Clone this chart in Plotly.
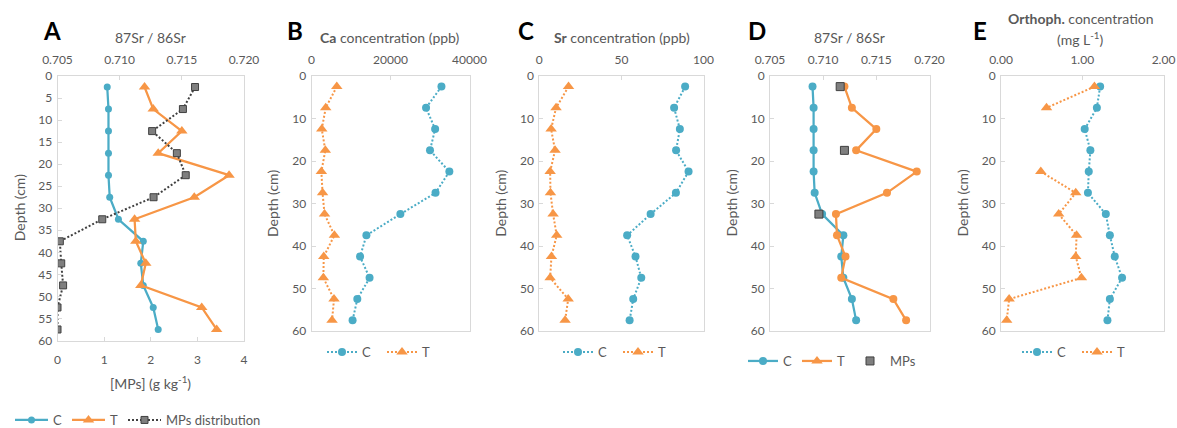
import plotly.graph_objects as go

W, H = 1177, 428

# ---------------- data ----------------
depth = [2.5, 7.5, 12.5, 17.5, 22.5, 27.5, 32.5, 37.5, 42.5, 47.5, 52.5, 57.5]

sr_ratio_C = [0.7090, 0.7091, 0.7091, 0.7091, 0.7091, 0.7092, 0.7099, 0.7119, 0.7117, 0.7119, 0.7127, 0.7131]
sr_ratio_T = [0.7120, 0.7127, 0.7150, 0.7131, 0.7188, 0.7160, 0.7112, 0.7113, 0.7121, 0.7117, 0.7166, 0.7178]
mps_conc = [2.95, 2.69, 2.03, 2.56, 2.75, 2.06, 0.96, 0.05, 0.08, 0.12, 0.0, 0.0]

mps_depth = [2.5, 17.5, 32.5]
mps_sr_ratio = [0.7116, 0.7120, 0.7096]

ca_C = [32900, 29000, 31300, 30000, 34900, 31400, 22500, 13900, 12300, 14700, 11600, 10400]
ca_T = [6400, 3600, 2600, 3500, 2500, 2800, 3300, 5800, 3100, 3000, 5700, 5200]

sr_C = [88.8, 82.1, 85.6, 83.3, 90.9, 83.2, 67.8, 53.5, 58.6, 62.1, 57.2, 55.0]
sr_T = [17.8, 10.2, 7.2, 9.6, 6.6, 6.8, 8.4, 10.6, 7.4, 6.6, 17.6, 15.7]

orth_C = [1.22, 1.18, 1.03, 1.10, 1.08, 1.07, 1.29, 1.34, 1.40, 1.49, 1.34, 1.31]
orth_T = [1.15, 0.56, None, None, 0.49, 0.92, 0.71, 0.93, 0.92, 0.99, 0.10, 0.07]

# ---------------- style ----------------
BLUE = "#4BACC6"
ORANGE = "#F79646"
SQ_FILL = "#7F7F7F"
SQ_LINE = "#404040"
GRAY_TXT = "#595959"
FRAME = "#D9D9D9"
FONT = "Lato"
DOT = "2px,2px"


def px(x):
    return x / W


def py(y):
    return 1 - y / H


fig = go.Figure()

# Panel A
fig.add_trace(go.Scatter(x=sr_ratio_C, y=depth, xaxis="x", yaxis="y", name="C", legend="legend",
                         mode="lines+markers", line=dict(color=BLUE, width=2.25),
                         marker=dict(symbol="circle", size=7, color=BLUE)))
fig.add_trace(go.Scatter(x=sr_ratio_T, y=depth, xaxis="x", yaxis="y", name="T", legend="legend",
                         mode="lines+markers", line=dict(color=ORANGE, width=2.25),
                         marker=dict(symbol="triangle-up", size=10, color=ORANGE)))
fig.add_trace(go.Scatter(x=mps_conc, y=depth, xaxis="x6", yaxis="y", name="MPs distribution", legend="legend",
                         mode="lines+markers", line=dict(color=SQ_LINE, width=2, dash=DOT),
                         marker=dict(symbol="square", size=7, color=SQ_FILL, line=dict(color=SQ_LINE, width=1))))

# Panel B
fig.add_trace(go.Scatter(x=ca_C, y=depth, xaxis="x2", yaxis="y2", name="C", legend="legend2",
                         mode="lines+markers", line=dict(color=BLUE, width=2, dash=DOT),
                         marker=dict(symbol="circle", size=8, color=BLUE)))
fig.add_trace(go.Scatter(x=ca_T, y=depth, xaxis="x2", yaxis="y2", name="T", legend="legend2",
                         mode="lines+markers", line=dict(color=ORANGE, width=2, dash=DOT),
                         marker=dict(symbol="triangle-up", size=10, color=ORANGE)))

# Panel C
fig.add_trace(go.Scatter(x=sr_C, y=depth, xaxis="x3", yaxis="y3", name="C", legend="legend3",
                         mode="lines+markers", line=dict(color=BLUE, width=2, dash=DOT),
                         marker=dict(symbol="circle", size=8, color=BLUE)))
fig.add_trace(go.Scatter(x=sr_T, y=depth, xaxis="x3", yaxis="y3", name="T", legend="legend3",
                         mode="lines+markers", line=dict(color=ORANGE, width=2, dash=DOT),
                         marker=dict(symbol="triangle-up", size=10, color=ORANGE)))

# Panel D
fig.add_trace(go.Scatter(x=sr_ratio_C, y=depth, xaxis="x4", yaxis="y4", name="C", legend="legend4",
                         mode="lines+markers", line=dict(color=BLUE, width=2.25),
                         marker=dict(symbol="circle", size=8, color=BLUE)))
fig.add_trace(go.Scatter(x=sr_ratio_T, y=depth, xaxis="x4", yaxis="y4", name="T", showlegend=False,
                         mode="lines+markers", line=dict(color=ORANGE, width=2.25),
                         marker=dict(symbol="circle", size=8, color=ORANGE)))
fig.add_trace(go.Scatter(x=[None], y=[None], xaxis="x4", yaxis="y4", name="T", legend="legend4",
                         mode="lines+markers", line=dict(color=ORANGE, width=2.25),
                         marker=dict(symbol="triangle-up", size=10, color=ORANGE)))
fig.add_trace(go.Scatter(x=mps_sr_ratio, y=mps_depth, xaxis="x4", yaxis="y4", name="MPs", legend="legend4",
                         mode="markers",
                         marker=dict(symbol="square", size=8, color=SQ_FILL, line=dict(color=SQ_LINE, width=1))))

# Panel E
fig.add_trace(go.Scatter(x=orth_C, y=depth, xaxis="x5", yaxis="y5", name="C", legend="legend5",
                         mode="lines+markers", line=dict(color=BLUE, width=2, dash=DOT),
                         marker=dict(symbol="circle", size=8, color=BLUE)))
fig.add_trace(go.Scatter(x=orth_T, y=depth, xaxis="x5", yaxis="y5", name="T", legend="legend5",
                         mode="lines+markers", line=dict(color=ORANGE, width=2, dash=DOT),
                         marker=dict(symbol="triangle-up", size=10, color=ORANGE)))

# ---------------- axes ----------------
tickfont = dict(family=FONT, size=12, color=GRAY_TXT)


def xax(x0, x1, rng, dtick, fmt, anchor):
    return dict(domain=[px(x0), px(x1)], range=rng, dtick=dtick, tick0=rng[0], tickformat=fmt,
                side="top", anchor=anchor, showline=True, linecolor=FRAME, linewidth=1, mirror=True,
                ticks="inside", ticklen=4, tickcolor=FRAME, showgrid=False, zeroline=False,
                tickfont=tickfont, ticklabelstandoff=6, fixedrange=True, automargin=False)


def yax(y0, y1, dtick, anchor):
    return dict(domain=[py(y1), py(y0)], range=[60, 0], dtick=dtick, tick0=0, anchor=anchor,
                showline=True, linecolor=FRAME, linewidth=1, mirror=True,
                ticks="inside", ticklen=4, tickcolor=FRAME, showgrid=False, zeroline=False,
                tickfont=tickfont, ticklabelstandoff=2, fixedrange=True, automargin=False)


A = (57.5, 244.0)
B = (311.5, 469.5)
Cc = (539.3, 703.5)
D = (770.0, 929.5)
E = (1001.0, 1163.5)
YT = 76.0
YB_A = 340.5
YB = 331.0

layout = dict(
    width=W, height=H, autosize=False,
    margin=dict(l=0, r=0, t=0, b=0, pad=0, autoexpand=False),
    paper_bgcolor="white", plot_bgcolor="white",
    font=dict(family=FONT, color=GRAY_TXT),
    xaxis=xax(*A, [0.705, 0.720], 0.005, ".3f", "y"),
    xaxis2=xax(*B, [0, 40000], 20000, "d", "y2"),
    xaxis3=xax(*Cc, [0, 100], 50, "d", "y3"),
    xaxis4=xax(*D, [0.705, 0.720], 0.005, ".3f", "y4"),
    xaxis5=xax(*E, [0, 2], 1, ".2f", "y5"),
    xaxis6=dict(overlaying="x", side="bottom", anchor="y", range=[0, 4], dtick=1, tick0=0,
                showline=True, linecolor=FRAME, ticks="inside", ticklen=4, tickcolor=FRAME,
                showgrid=False, zeroline=False, tickfont=tickfont, ticklabelstandoff=8,
                fixedrange=True, automargin=False),
    yaxis=yax(YT, YB_A, 5, "x"),
    yaxis2=yax(YT, YB, 10, "x2"),
    yaxis3=yax(YT, YB, 10, "x3"),
    yaxis4=yax(YT, YB, 10, "x4"),
    yaxis5=yax(YT, YB, 10, "x5"),
)

legfont = dict(family=FONT, size=13, color=GRAY_TXT)


def leg(x, y, ew=None, iw=30):
    d = dict(orientation="h", x=px(x), y=py(y), xanchor="left", yanchor="middle",
             font=legfont, bgcolor="rgba(0,0,0,0)", itemclick=False, itemdoubleclick=False,
             tracegroupgap=0, itemwidth=iw)
    if ew is not None:
        d["entrywidth"] = ew
        d["entrywidthmode"] = "pixels"
    return d


layout["legend"] = leg(10, 420, iw=33)
layout["legend2"] = leg(322, 352, 15)
layout["legend3"] = leg(558, 352, 15)
layout["legend4"] = leg(743, 361)
layout["legend5"] = leg(1017, 352, 15)

fig.update_layout(**layout)

# ---------------- annotations ----------------
anns = []


def ann(text, x, y, size=14, color=GRAY_TXT, angle=0):
    anns.append(dict(text=text, x=px(x), y=py(y), xref="paper", yref="paper", showarrow=False,
                     xanchor="center", yanchor="middle", textangle=angle,
                     font=dict(family=FONT, size=size, color=color)))


for letter, lx in [("A", 52), ("B", 295), ("C", 526), ("D", 757), ("E", 980)]:
    ann("<b>%s</b>" % letter, lx, 31, size=24, color="black")

ann("87Sr / 86Sr", 150.7, 37)
ann("<b>Ca</b> concentration (ppb)", 390, 37)
ann("<b>Sr</b> concentration (ppb)", 621.7, 37)
ann("87Sr / 86Sr", 849, 37)
ann("<b>Orthoph.</b> concentration", 1080.7, 19)
ann("(mg L<sup>-1</sup>)", 1080.7, 39)
ann("[MPs] (g kg<sup>-1</sup>)", 150, 382)

ann("Depth (cm)", 19, (YT + YB_A) / 2, angle=-90)
for x0 in [B[0], Cc[0], D[0], E[0]]:
    ann("Depth (cm)", x0 - 39, (YT + YB) / 2, angle=-90)

fig.update_layout(annotations=anns)

fig.write_html("out.html", config={"displayModeBar": False},
               post_script="document.body.style.margin='0';document.body.style.padding='0';")
